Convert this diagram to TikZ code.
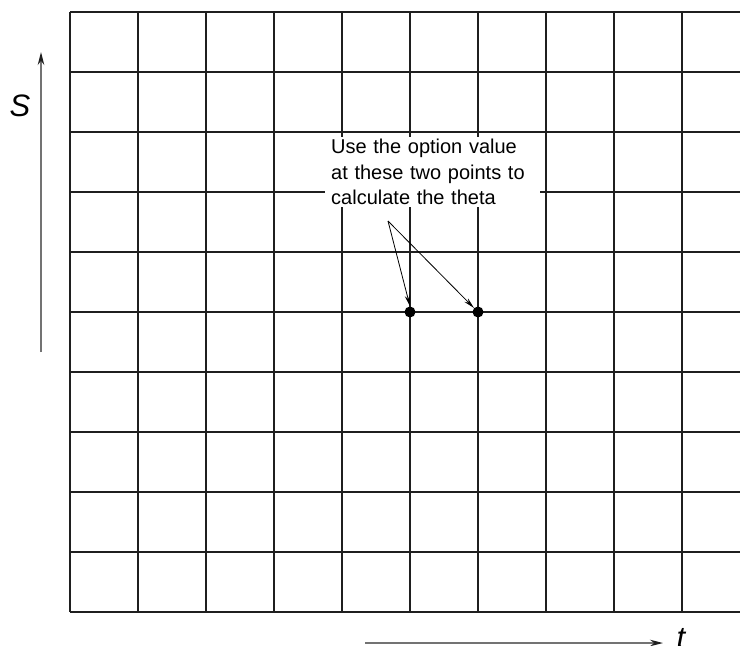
\documentclass[tikz,border=0pt]{standalone}
\usepackage{fontspec}
\setmainfont{Liberation Sans}
\usetikzlibrary{arrows.meta}
\definecolor{gridc}{gray}{0.12}
\definecolor{axisc}{gray}{0.45}
\tikzset{
  gridline/.style={draw=gridc, line width=1.6pt},
  axisarrow/.style={draw=axisc, line width=1.4pt, -{Stealth[length=13pt,width=6.5pt,color=gridc]}},
  callout/.style={draw=black, line width=0.8pt, -{Stealth[length=11pt,width=5pt]}},
  dot/.style={circle, fill=black, inner sep=0pt, minimum size=11pt},
  axislabel/.style={font=\fontsize{31}{32}\selectfont\itshape, inner sep=0pt},
  notebox/.style={fill=white, align=left, text width=203pt, inner xsep=6pt, inner ysep=2pt,
    font=\fontsize{20}{25.5}\selectfont}
}
\begin{document}
\begin{tikzpicture}[x=1pt,y=-1pt]
\clip (0,0) rectangle (740,646);
\fill[white] (0,0) rectangle (740,646);
% grid
\foreach \i in {0,...,10} {
  \draw[gridline] (70+68*\i,12) -- (70+68*\i,612);
}
\foreach \j in {0,...,10} {
  \draw[gridline] (70,12+60*\j) -- (760,12+60*\j);
}
% note box
\node[notebox, anchor=north west] (note) at (325,137) {Use the option value\\at these two points to\\calculate the theta};
\coordinate (src) at (388,221);
% dots
\node[dot] (p1) at (410,312) {};
\node[dot] (p2) at (478,312) {};
\draw[callout] (src) -- (p1.north);
\draw[callout] (src) -- (p2.north west);
% axes
\coordinate (s0) at (41,352);
\coordinate (s1) at (41,52);
\draw[axisarrow] (s0) -- (s1);
\node[axislabel] (S) at (20,106) {S};
\coordinate (t0) at (365,643);
\coordinate (t1) at (663,643);
\draw[axisarrow] (t0) -- (t1);
\node[axislabel, anchor=base] (T) at (681,648) {t};
\end{tikzpicture}
\end{document}
